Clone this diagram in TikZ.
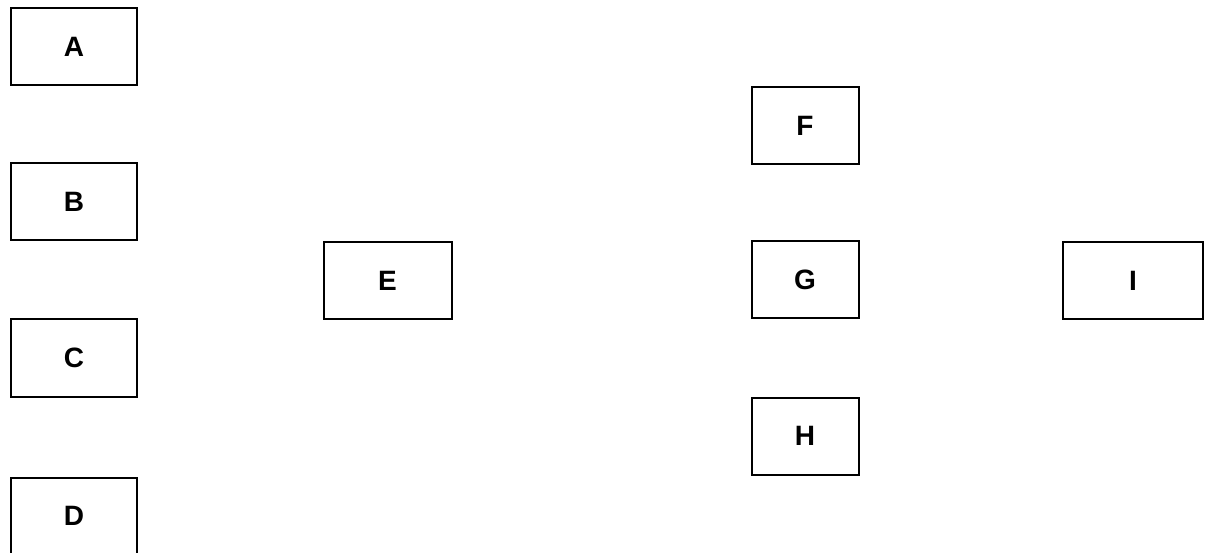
\documentclass[tikz,border=0pt]{standalone}
\usepackage{fontspec}
\setmainfont{Liberation Sans}
\begin{document}
\begin{tikzpicture}[x=1pt,y=-1pt,
  box/.style={draw=black,line width=2pt,fill=white,inner sep=0pt,
    font=\fontsize{28}{30}\selectfont\bfseries,
    minimum width=#1,minimum height=77pt},
  box/.default=126pt]
  \useasboundingbox (0,0) rectangle (1205,553);
  \clip (0,0) rectangle (1205,553);
  % left column
  \node[box] (A) at (74,47) {A};
  \node[box] (B) at (74,202) {B};
  \node[box] (C) at (74,358) {C};
  \node[box] (D) at (74,516) {D};
  % middle
  \node[box=128pt] (E) at (387.5,280.5) {E};
  % right column
  \node[box=107pt] (F) at (805,126) {F};
  \node[box=107pt] (G) at (805,280) {G};
  \node[box=107pt] (H) at (805,436) {H};
  % far right
  \node[box=140pt] (I) at (1133,280.5) {I};
\end{tikzpicture}
\end{document}
